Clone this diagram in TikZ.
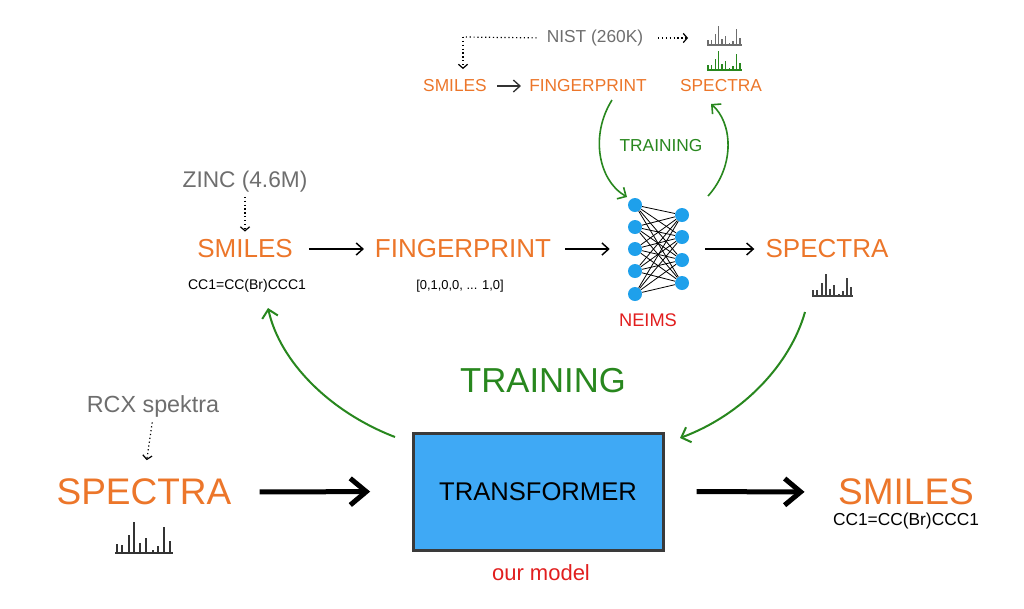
\documentclass[tikz,border=0pt]{standalone}
\usepackage{fontspec}
\setmainfont{Liberation Sans}
\usetikzlibrary{arrows.meta}
\definecolor{orng}{RGB}{236,118,42}
\definecolor{gtxt}{RGB}{110,110,110}
\definecolor{grn}{RGB}{40,135,30}
\definecolor{redt}{RGB}{225,30,30}
\definecolor{boxblue}{RGB}{63,169,245}
\definecolor{nodeblue}{RGB}{30,160,235}
\definecolor{boxedge}{RGB}{58,58,58}
\newcommand{\spectrum}[4]{%
  \begin{scope}[shift={(#1,#2)},scale=#3,draw=#4,line width=1.25pt]
    \draw (0,0) -- (58,0);
    \foreach \px/\h in {1.7/9,7.3/8,14/18,19.3/31,25/10,30.7/15,37.7/3,43.3/7,49/26,55/12}
      \draw (\px,0) -- (\px,-\h);
  \end{scope}}
\begin{document}
\begin{tikzpicture}[x=0.75pt,y=-0.75pt,
  bigt/.style={font=\fontsize{27.75}{30}\selectfont,text=orng,inner sep=0pt},
  midt/.style={font=\fontsize{19.5}{22}\selectfont,text=orng,inner sep=0pt},
  smlt/.style={font=\fontsize{13}{15}\selectfont,text=orng,inner sep=0pt},
  graytxt/.style={text=gtxt,inner sep=0pt},
  arr/.style={line width=1.1pt,-{Straight Barb[length=5pt,width=9pt]}},
  bigarr/.style={line width=3.75pt,-{Straight Barb[length=12pt,width=20pt]}},
  dotarr/.style={line width=0.9pt,dotted,-{Straight Barb[length=3pt,width=7pt]}},
  garr/.style={draw=grn,line width=1.2pt,-{Straight Barb[length=5pt,width=10pt]}},
  biggarr/.style={draw=grn,line width=1.5pt,-{Straight Barb[length=6pt,width=12pt]}},
  neuron/.style={circle,fill=nodeblue,minimum size=10.5pt,inner sep=0pt}]
\useasboundingbox (0,0) rectangle (1024,608);

% ---------- top row (NIST) ----------
\node[graytxt,font=\fontsize{13}{15}\selectfont] (nist) at (595,38) {NIST (260K)};
\node[smlt] (stop) at (455,86) {SMILES};
\node[smlt] (ftop) at (588,86) {FINGERPRINT};
\node[smlt] (sptop) at (721,86) {SPECTRA};
\spectrum{707}{45}{0.6}{gtxt}
\spectrum{707}{70}{0.6}{grn}
\coordinate (nc) at (463,37);
\coordinate (nd) at (463,69);
\coordinate (spt) at (688,38);
\draw[line width=0.9pt,dotted,shorten <=7.5pt] (nist.west) -- (nc);
\draw[dotarr] (nc) -- (nd);
\draw[dotarr,shorten <=11pt] (nist.east) -- (spt);
\draw[arr,draw=black!80,line width=1pt,shorten <=7.5pt,shorten >=6pt] (stop.east) -- (ftop.west);

% ---------- NEIMS network ----------
\foreach \i/\yy in {1/205,2/227,3/249,4/271,5/294}
  \node[neuron] (n\i) at (635,\yy) {};
\foreach \j/\yy in {1/215,2/237,3/260,4/283}
  \node[neuron] (m\j) at (682,\yy) {};
\foreach \i in {1,...,5}
  \foreach \j in {1,...,4}
    \draw[line width=0.6pt] (n\i) -- (m\j);
\node[text=redt,font=\fontsize{13.7}{15}\selectfont,inner sep=0pt] (neims) at (648,320) {NEIMS};

% green training loop (top)
\node[text=grn,font=\fontsize{13}{15}\selectfont,inner sep=0pt] (trs) at (661,146) {TRAINING};
\coordinate (ga1) at (612,100);
\coordinate (ga2) at (627,197);
\coordinate (gb1) at (708,196);
\coordinate (gb2) at (711,104);
\draw[garr] (ga1) .. controls (590,135) and (598,180) .. (ga2);
\draw[garr] (gb1) .. controls (736,165) and (732,122) .. (gb2);

% ---------- middle row ----------
\node[graytxt,font=\fontsize{17}{19}\selectfont] (zinc) at (245,182) {ZINC (4.6M)};
\node[midt] (smid) at (245,249) {SMILES};
\node[font=\fontsize{10.5}{12}\selectfont,inner sep=0pt] (cc1m) at (247,286) {CC1=CC(Br)CCC1};
\node[midt] (fmid) at (463,249) {FINGERPRINT};
\node[font=\fontsize{9.7}{11}\selectfont,inner sep=0pt] (fvec) at (460,286) {[0,1,0,0, ... 1,0]};
\node[midt] (spmid) at (827,249) {SPECTRA};
\spectrum{812}{296}{0.71}{black!75}
\coordinate (netout) at (689,249);
\draw[dotarr,shorten <=3pt,shorten >=6pt] (zinc.south) -- (smid.north);
\draw[arr,shorten <=12pt,shorten >=8pt] (smid.east) -- (fmid.west);
\draw[arr,shorten <=10.5pt,shorten >=13.5pt] (fmid.east) -- (n3.west);
\draw[arr,shorten <=12pt,shorten >=8.25pt] (netout) -- (spmid.west);

% ---------- bottom row ----------
\node[text=grn,font=\fontsize{26}{28}\selectfont,inner sep=0pt] (trb) at (543,381) {TRAINING};
\node[graytxt,font=\fontsize{17.5}{19}\selectfont] (rcx) at (153,406) {RCX spektra};
\node[bigt] (spl) at (144,492) {SPECTRA};
\spectrum{115}{553}{1}{black!80}
\node[draw=boxedge,line width=2.25pt,fill=boxblue,minimum width=187.5pt,minimum height=87.75pt,
      font=\fontsize{19.2}{21}\selectfont,inner sep=0pt] (tf) at (538,491.5) {TRANSFORMER};
\node[text=redt,font=\fontsize{16.5}{18}\selectfont,inner sep=0pt] (ourm) at (541,573) {our model};
\node[bigt] (smr) at (906,492) {SMILES};
\node[font=\fontsize{13}{15}\selectfont,inner sep=0pt] (cc1r) at (906,521) {CC1=CC(Br)CCC1};
\draw[dotarr,shorten <=4pt,shorten >=14pt] (rcx.south) -- (spl.north);
\draw[bigarr,shorten <=21pt,shorten >=31pt] (spl.east) -- (tf.west);
\draw[bigarr,shorten <=24pt,shorten >=25pt] (tf.east) -- (smr.west);

% big green arrows
\coordinate (gl1) at (395,437);
\coordinate (gl2) at (268,308);
\coordinate (gr1) at (805,312);
\coordinate (gr2) at (680,438);
\draw[biggarr] (gl1) .. controls (330,412) and (280,362) .. (gl2);
\draw[biggarr] (gr1) .. controls (790,365) and (742,415) .. (gr2);
\end{tikzpicture}
\end{document}
